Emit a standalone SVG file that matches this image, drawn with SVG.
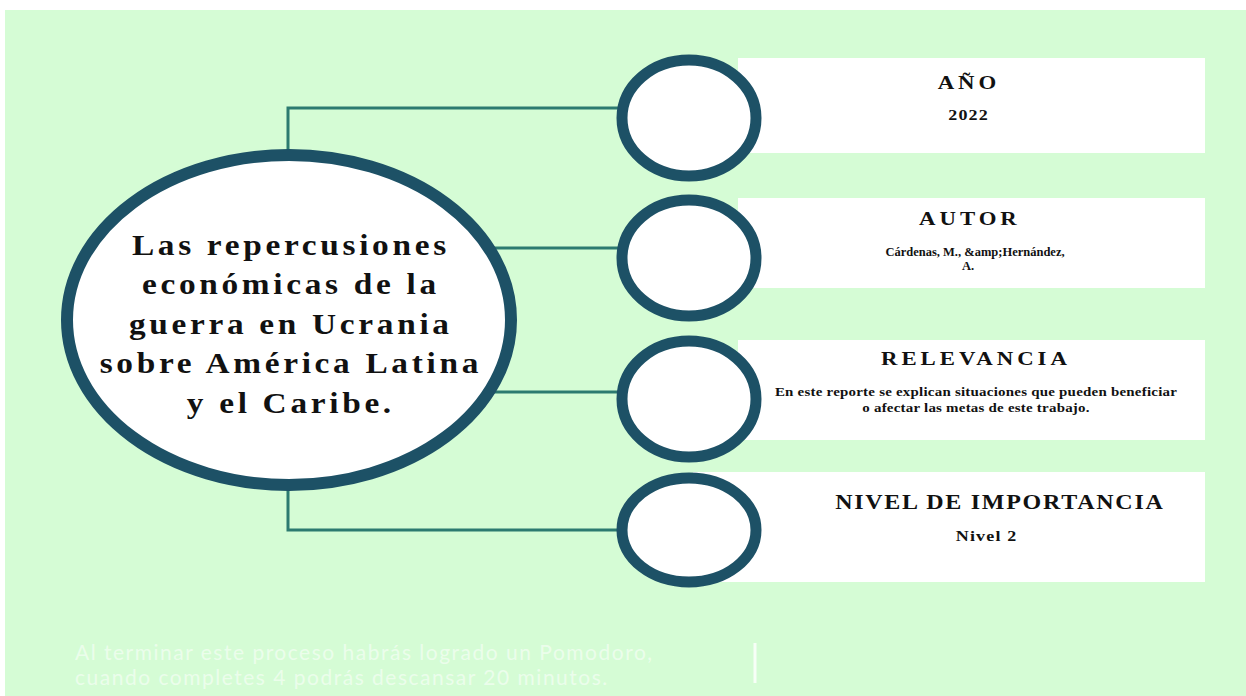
<svg xmlns="http://www.w3.org/2000/svg" width="1246" height="696" viewBox="0 0 1246 696">
<style>
.bg{fill:#d5fcd5}
.conn{fill:none;stroke:#2c7a70;stroke-width:3}
.box{fill:#ffffff}
.ring{fill:#ffffff;stroke:#1d5166;stroke-width:11}
.main{fill:#ffffff;stroke:#1d5166;stroke-width:12}
.title{font-family:"Liberation Serif","Times New Roman",serif;font-weight:bold;font-size:29px;letter-spacing:3.2px;fill:#111;text-anchor:middle}
.head{font-family:"Liberation Serif","Times New Roman",serif;font-weight:bold;font-size:19px;letter-spacing:3.3px;fill:#111;text-anchor:middle}
.body{font-family:"Liberation Serif","Times New Roman",serif;font-weight:bold;font-size:12.5px;fill:#111;text-anchor:middle}
.big{font-size:15px;letter-spacing:1px}
.rel{font-size:13px;letter-spacing:0.2px}
.foot{font-family:Lato,"Noto Sans",sans-serif;font-size:21px;letter-spacing:1.5px;fill:#ffffff;fill-opacity:0.55}
</style>
<rect x="0" y="0" width="1246" height="696" fill="#ffffff"/>
<rect class="bg" x="5" y="10" width="1241" height="686"/>
<g id="connectors">
<path class="conn" d="M288,156 V108 H625"/>
<path class="conn" d="M489,248 H625"/>
<path class="conn" d="M489,392 H625"/>
<path class="conn" d="M288,484 V530 H625"/>
</g>
<g id="main">
<ellipse class="main" cx="289" cy="320" rx="222" ry="165"/>
<g transform="translate(289 0) scale(1.15 1)">
<text class="title" x="1.6" y="255">Las repercusiones</text>
<text class="title" x="1.6" y="294">económicas de la</text>
<text class="title" x="1.6" y="334">guerra en Ucrania</text>
<text class="title" x="1.6" y="373">sobre América Latina</text>
<text class="title" x="1.6" y="413">y el Caribe.</text>
</g>
</g>
<g id="anio">
<rect class="box" x="738" y="58" width="467" height="95"/>
<ellipse class="ring" cx="689" cy="118" rx="67" ry="58"/>
<text class="head" transform="translate(967 0) scale(1.2 1)" x="1.6" y="89">AÑO</text>
<text class="body big" transform="translate(968 0) scale(1.2 1)" x="0.5" y="120">2022</text>
</g>
<g id="autor">
<rect class="box" x="738" y="198" width="467" height="90"/>
<ellipse class="ring" cx="689" cy="258" rx="67" ry="58"/>
<text class="head" transform="translate(968 0) scale(1.2 1)" x="1.6" y="225">AUTOR</text>
<text class="body" x="975" y="256">Cárdenas, M., &amp;amp;Hernández,</text>
<text class="body" x="968" y="270">A.</text>
</g>
<g id="relevancia">
<rect class="box" x="738" y="340" width="467" height="100"/>
<ellipse class="ring" cx="689" cy="399" rx="67" ry="58"/>
<text class="head" transform="translate(974 0) scale(1.2 1)" x="1.6" y="365">RELEVANCIA</text>
<g transform="translate(976 0) scale(1.15 1)">
<text class="body rel" x="0" y="396">En este reporte se explican situaciones que pueden beneficiar</text>
<text class="body rel" x="0" y="412">o afectar las metas de este trabajo.</text>
</g>
</g>
<g id="nivel">
<rect class="box" x="693" y="472" width="512" height="110"/>
<ellipse class="ring" cx="689" cy="530" rx="67" ry="52"/>
<text class="head" transform="translate(999 0) scale(1.2 1)" x="0.7" y="509" style="font-size:20px;letter-spacing:1.45px">NIVEL DE IMPORTANCIA</text>
<text class="body big" transform="translate(986 0) scale(1.2 1)" x="0.5" y="541">Nivel 2</text>
</g>
<g id="footer">
<text class="foot" x="75" y="660">Al terminar este proceso habrás logrado un Pomodoro,</text>
<text class="foot" x="75" y="685">cuando completes 4 podrás descansar 20 minutos.</text>
<line x1="755" y1="643" x2="755" y2="683" stroke="#ffffff" stroke-opacity="0.8" stroke-width="3"/>
</g>
</svg>
